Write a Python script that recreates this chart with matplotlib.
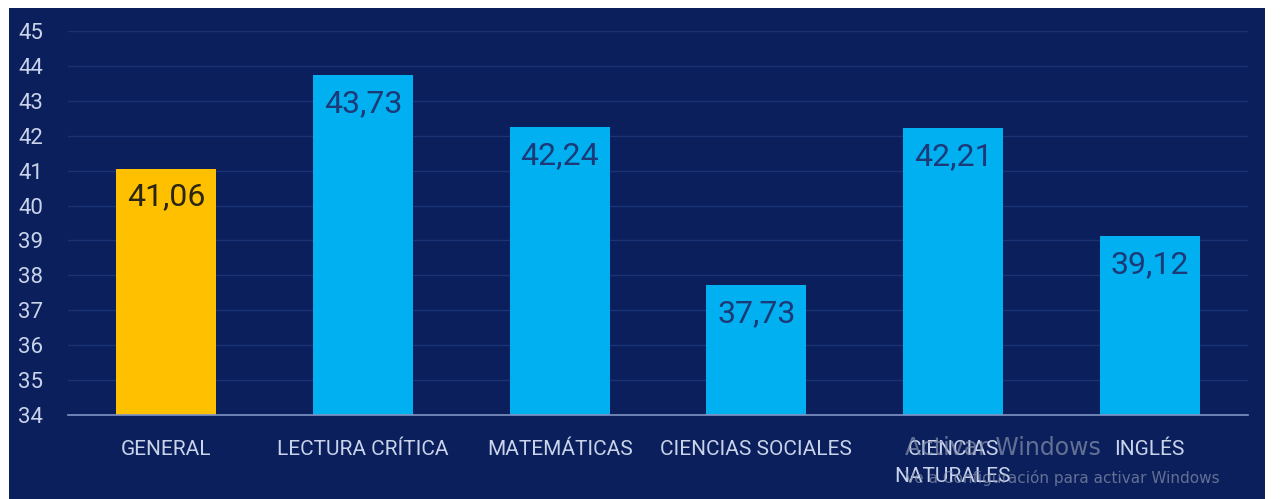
import matplotlib.pyplot as plt
import matplotlib.patches as mpatches

categories = ["GENERAL", "LECTURA CRÍTICA", "MATEMÁTICAS", "CIENCIAS SOCIALES",
              "CIENCIAS\nNATURALES", "INGLÉS"]
values = [41.06, 43.73, 42.24, 37.73, 42.21, 39.12]
value_labels = ["41,06", "43,73", "42,24", "37,73", "42,21", "39,12"]
yticks = list(range(34, 46))

C_BG = "#0a1f5c"
C_BLUE = "#00b0f0"
C_GOLD = "#ffc000"
C_GRID = "#1b3372"
C_TICK = "#c9d3ea"
FONT = ["Liberation Sans Narrow", "Roboto", "DejaVu Sans"]

plt.rcParams["font.family"] = FONT

fig = plt.figure(figsize=(12.82, 4.99), dpi=100)
fig.patch.set_facecolor("white")
fig.add_artist(mpatches.Rectangle((9 / 1282, 0), (1265 - 9) / 1282, (499 - 8) / 499,
                                  transform=fig.transFigure, facecolor=C_BG,
                                  edgecolor="none", zorder=0))

ax = fig.add_axes([68 / 1282, 84 / 499, (1248 - 68) / 1282, (468 - 84) / 499])
ax.set_facecolor("none")

colors = [C_GOLD] + [C_BLUE] * (len(values) - 1)
x = list(range(len(values)))
ax.bar(x, [v - 34 for v in values], bottom=34, width=0.51, color=colors, zorder=3)

for xi, v, lab, c in zip(x, values, value_labels, colors):
    ax.annotate(lab, (xi, v), xytext=(0, -10), textcoords="offset points",
                ha="center", va="top", fontsize=23,
                color="#2b2614" if c == C_GOLD else "#1d3a78", zorder=4)

ax.set_xlim(-0.5, 5.5)
ax.set_ylim(34, 45)
ax.set_yticks(yticks)
ax.set_yticklabels([str(t) for t in yticks])
ax.set_xticks(x)
ax.set_xticklabels(categories, linespacing=1.5)
ax.tick_params(axis="y", length=0, pad=18, labelsize=16, labelcolor=C_TICK)
ax.tick_params(axis="x", length=0, pad=18, labelsize=15, labelcolor=C_TICK)

ax.grid(axis="y", color=C_GRID, lw=1.0, zorder=1)
ax.grid(axis="x", visible=False)
for s in ["top", "right", "left"]:
    ax.spines[s].set_visible(False)
ax.spines["bottom"].set_color("#8094c4")
ax.spines["bottom"].set_linewidth(1.2)
ax.spines["bottom"].set_zorder(5)

# Windows activation watermark visible in the source screenshot
fig.text(905 / 1282, (499 - 448) / 499, "Activar Windows", fontsize=17,
         color="#8a93ad", alpha=0.7, va="center", family="DejaVu Sans", zorder=6)
fig.text(905 / 1282, (499 - 478) / 499, "Ve a Configuración para activar Windows",
         fontsize=11, color="#8a93ad", alpha=0.7, va="center", family="DejaVu Sans", zorder=6)

fig.savefig("out.png", dpi=100, facecolor=fig.get_facecolor())
